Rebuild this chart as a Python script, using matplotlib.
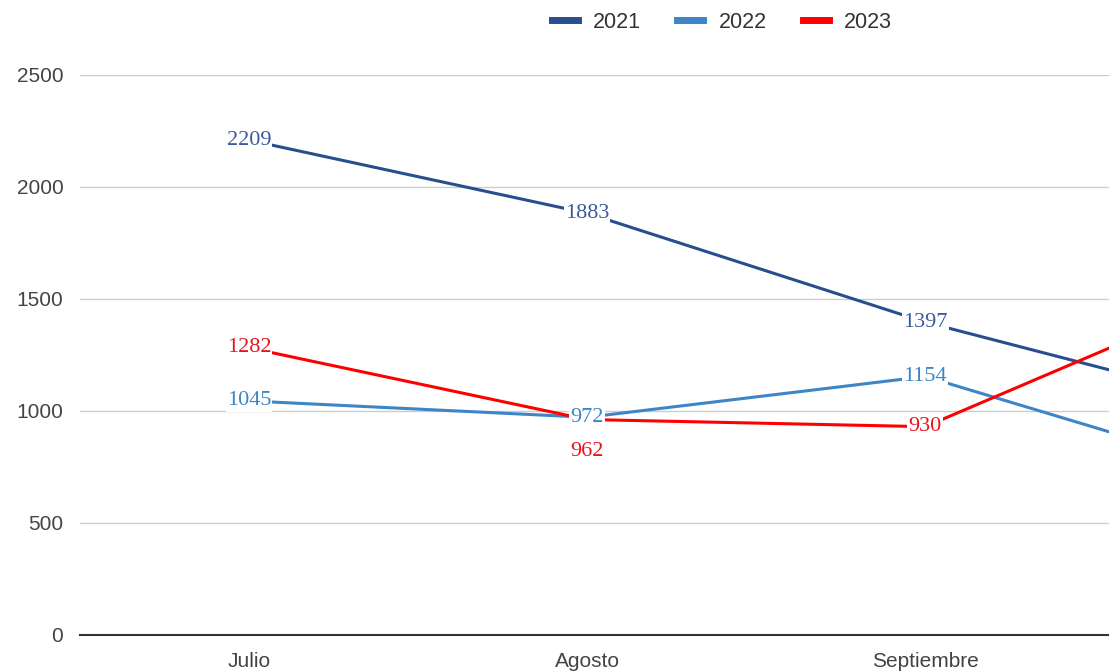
import matplotlib.pyplot as plt
import numpy as np

# data (last month is cut off at the right edge)
meses = ['Julio', 'Agosto', 'Septiembre', 'Octubre']
v2021 = [2209, 1883, 1397, 1005]
v2022 = [1045, 972, 1154, 700]
v2023 = [1282, 962, 930, 1575]

series = [
    ('2021', v2021, '#284e8f', '#3b5a9c'),
    ('2022', v2022, '#3d85c6', '#3d85c6'),
    ('2023', v2023, '#ff0000', '#e8141c'),
]

plt.rcParams['font.family'] = ['Liberation Sans', 'DejaVu Sans']

fig = plt.figure(figsize=(11.09, 6.72), dpi=100)
ax = fig.add_axes([80 / 1109, 1 - 635 / 672, 1 - 80 / 1109, (635 - 75) / 672])

x = np.arange(len(meses))
for name, vals, col, lcol in series:
    ax.plot(x, vals, color=col, lw=2.2, label=name, zorder=3)

# data labels, centred on points with a white backing
for name, vals, col, lcol in series:
    for i, v in enumerate(vals):
        dy = 0
        if name == '2023' and i == 1:
            dy = -23
        ax.annotate(str(v), (x[i], v), xytext=(0, dy), textcoords='offset points',
                    ha='center', va='center', fontsize=16, color=lcol,
                    family='Liberation Serif', zorder=5,
                    bbox=dict(boxstyle='square,pad=0.05', fc='white', ec='none'),
                    annotation_clip=True)

ax.set_xticks(x, meses)
ax.set_yticks(np.arange(0, 2501, 500))
ax.set_xlim(-0.5, (1109 - 248) / 338.5)
ax.set_ylim(0, 2500)
ax.grid(axis='y', color='#cccccc', lw=1)
ax.set_axisbelow(True)
for s in ['top', 'right', 'left']:
    ax.spines[s].set_visible(False)
ax.spines['bottom'].set_color('#333333')
ax.spines['bottom'].set_linewidth(1.5)
ax.spines['bottom'].set_zorder(4)
ax.tick_params(axis='both', length=0, colors='#444444')
ax.tick_params(axis='y', pad=12, labelsize=15)
ax.tick_params(axis='x', pad=12, labelsize=15)

fig.legend(loc='center', bbox_to_anchor=(722 / 1109, 1 - 22 / 672), ncol=3,
           frameon=False, fontsize=15.5, handlelength=1.2, handletextpad=0.7,
           columnspacing=1.7, labelcolor='#333333')
for h in fig.legends[0].get_lines():
    h.set_linewidth(5)

fig.savefig('out.png', dpi=100)
